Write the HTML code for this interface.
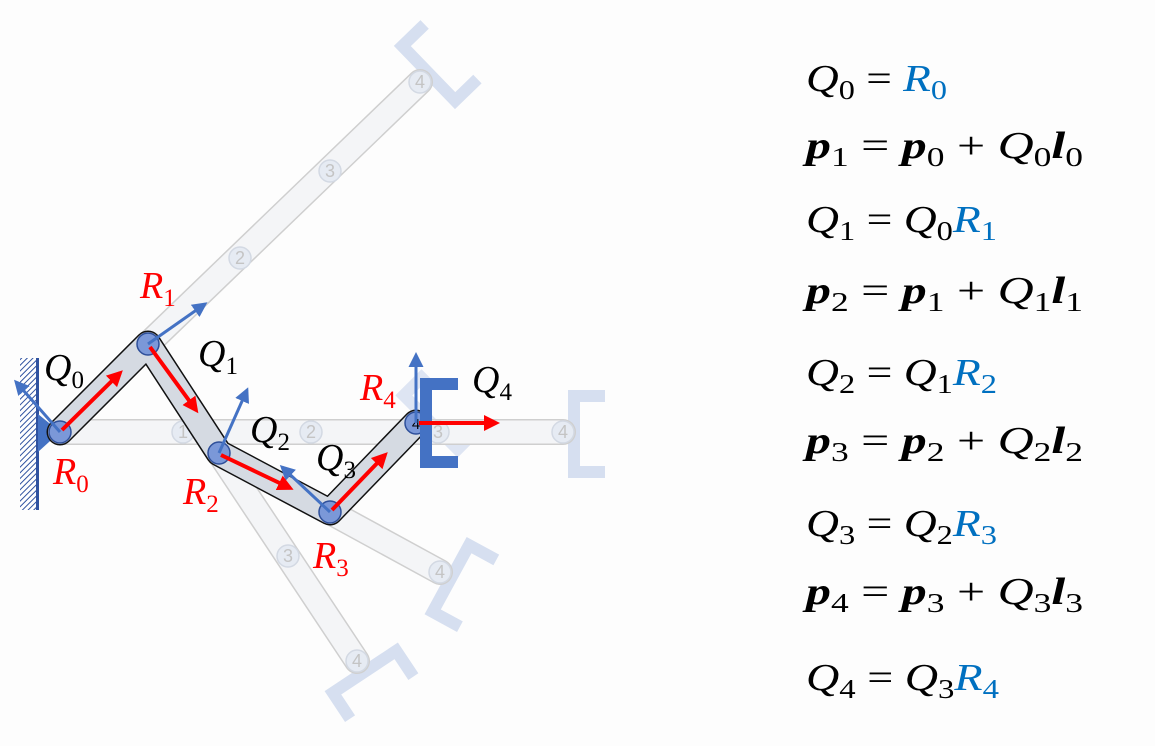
<!DOCTYPE html>
<html><head><meta charset="utf-8"><style>
html,body{margin:0;padding:0;background:#fff;}
svg{display:block;}
.m{font-family:"Liberation Serif",serif;font-style:italic;font-size:38px;}
.b{font-weight:bold;}
.u{font-style:normal;}
</style></head><body>
<svg width="1155" height="746" viewBox="0 0 1155 746" xmlns="http://www.w3.org/2000/svg">
<defs>
<pattern id="h" width="4" height="4" patternUnits="userSpaceOnUse" patternTransform="rotate(45)">
<rect width="4" height="4" fill="#fff"/><line x1="0" y1="0" x2="0" y2="4" stroke="#2f52a0" stroke-width="2"/></pattern>
<marker id="ar" markerWidth="4" markerHeight="4" refX="3" refY="2" orient="auto" markerUnits="strokeWidth"><path d="M0,0 L4,2 L0,4 z" fill="#f00"/></marker>
<marker id="ab" markerWidth="5" markerHeight="5" refX="4" refY="2.5" orient="auto" markerUnits="strokeWidth"><path d="M0,0 L5,2.5 L0,5 z" fill="#4472c4"/></marker>
<path id="gr" d="M-5,-44 h12 v88 h-12 z M-5,-44 h37 v12 h-37 z M-5,32 h37 v12 h-37 z"/>
</defs>
<rect width="1155" height="746" fill="#fdfdfd"/>
<!-- ghost grippers -->
<g fill="#d6dff0">
<path d="M568,390 h37 v12 h-25 v64 h25 v12 h-37 z"/>
<use href="#gr" transform="translate(428,74) rotate(-44)"/>
<use href="#gr" transform="translate(450,578) rotate(28.6)"/>
<use href="#gr" transform="translate(364,671) rotate(56.4)"/>
<use href="#gr" transform="translate(430,423) rotate(-45)" opacity="0.8"/>
</g>
<!-- ghost links -->
<g stroke-linecap="round" fill="none">
<g stroke="#cfcfcf" stroke-width="26">
<polyline points="60,432 563,432"/>
<polyline points="148,344 420,82"/>
<polyline points="219,453 357,661"/>
<polyline points="330,512 440,572"/>
</g>
<g stroke="#f4f5f7" stroke-width="23">
<polyline points="60,432 563,432"/>
<polyline points="148,344 420,82"/>
<polyline points="219,453 357,661"/>
<polyline points="330,512 440,572"/>
</g>
</g>
<g fill="#e6ebf3" stroke="#d3d9e3" stroke-width="1.5">
<circle cx="183" cy="432" r="11"/><circle cx="311" cy="432" r="11"/><circle cx="438" cy="432" r="11"/><circle cx="563" cy="432" r="11"/>
<circle cx="240" cy="258" r="11"/><circle cx="330" cy="171" r="11"/><circle cx="420" cy="82" r="11"/>
<circle cx="288" cy="556" r="11"/><circle cx="357" cy="661" r="11"/>
<circle cx="440" cy="572" r="11"/>
</g>
<g fill="#c4c4c4" font-family="Liberation Sans,sans-serif" font-size="18" text-anchor="middle">
<text x="183" y="438">1</text><text x="311" y="438">2</text><text x="438" y="438">3</text><text x="563" y="438">4</text>
<text x="240" y="264">2</text><text x="330" y="177">3</text><text x="420" y="88">4</text>
<text x="288" y="562">3</text><text x="357" y="667">4</text><text x="440" y="578">4</text>
</g>
<!-- wall -->
<rect x="20" y="358" width="18" height="152" fill="url(#h)"/>
<rect x="36" y="358" width="3" height="152" fill="#2f52a0"/>
<path d="M38,414 L60,432 L38,452 z" fill="#4472c4"/>
<!-- main arm -->
<g stroke-linecap="round" stroke-linejoin="round" fill="none">
<polyline points="60,432 148,344 219,453 330,512 416,423" stroke="#111" stroke-width="27"/>
<polyline points="60,432 148,344 219,453 330,512 416,423" stroke="#d5dae2" stroke-width="24"/>
</g>
<g fill="#7b98d8" stroke="#2e4f9a" stroke-width="1.5">
<circle cx="60" cy="432" r="11"/><circle cx="148" cy="344" r="11"/><circle cx="219" cy="453" r="11"/><circle cx="330" cy="512" r="11"/><circle cx="416" cy="423" r="11"/>
</g>
<text x="416" y="429" font-family="Liberation Sans,sans-serif" font-size="15" text-anchor="middle">4</text>
<!-- main gripper -->
<path d="M420,378 h38 v12 h-26 v66 h26 v12 h-38 z" fill="#4472c4"/>
<!-- blue arrows -->
<g stroke="#4472c4" stroke-width="3" marker-end="url(#ab)">
<line x1="60" y1="432" x2="16" y2="382"/>
<line x1="148" y1="344" x2="205" y2="304"/>
<line x1="219" y1="453" x2="247" y2="390"/>
<line x1="330" y1="512" x2="282" y2="467"/>
<line x1="416" y1="423" x2="416" y2="355"/>
</g>
<!-- red arrows -->
<g stroke="#f00" stroke-width="4" marker-end="url(#ar)">
<line x1="62" y1="430" x2="120" y2="373"/>
<line x1="150" y1="347" x2="196" y2="410"/>
<line x1="221" y1="455" x2="290" y2="488"/>
<line x1="332" y1="510" x2="385" y2="455"/>
<line x1="419" y1="423" x2="496" y2="423"/>
</g>
<!-- labels -->
<g class="m" font-size="34">
<text x="44" y="380" fill="#000">Q<tspan font-size="25" dy="8" class="u">0</tspan></text>
<text x="198" y="366" fill="#000">Q<tspan font-size="25" dy="8" class="u">1</tspan></text>
<text x="250" y="442" fill="#000">Q<tspan font-size="25" dy="8" class="u">2</tspan></text>
<text x="316" y="470" fill="#000">Q<tspan font-size="25" dy="8" class="u">3</tspan></text>
<text x="472" y="392" fill="#000">Q<tspan font-size="25" dy="8" class="u">4</tspan></text>
<text x="140" y="298" fill="#f00">R<tspan font-size="25" dy="8" class="u">1</tspan></text>
<text x="53" y="484" fill="#f00">R<tspan font-size="25" dy="8" class="u">0</tspan></text>
<text x="183" y="504" fill="#f00">R<tspan font-size="25" dy="8" class="u">2</tspan></text>
<text x="313" y="568" fill="#f00">R<tspan font-size="25" dy="8" class="u">3</tspan></text>
<text x="360" y="400" fill="#f00">R<tspan font-size="25" dy="8" class="u">4</tspan></text>
</g>
<!-- equations -->
<g class="m" fill="#000">
<text x="806" y="91" textLength="141" lengthAdjust="spacingAndGlyphs">Q<tspan class="u" font-size="27" dy="8">0</tspan><tspan class="u" dy="-8"> = </tspan><tspan fill="#0070c0">R</tspan><tspan class="u" fill="#0070c0" font-size="27" dy="8">0</tspan></text>
<text x="806" y="158" textLength="277" lengthAdjust="spacingAndGlyphs"><tspan class="b">p</tspan><tspan class="u" font-size="27" dy="8">1</tspan><tspan class="u" dy="-8"> = </tspan><tspan class="b">p</tspan><tspan class="u" font-size="27" dy="8">0</tspan><tspan class="u" dy="-8"> + </tspan>Q<tspan class="u" font-size="27" dy="8">0</tspan><tspan class="b" dy="-8">l</tspan><tspan class="u" font-size="27" dy="8">0</tspan></text>
<text x="806" y="232" textLength="191" lengthAdjust="spacingAndGlyphs">Q<tspan class="u" font-size="27" dy="8">1</tspan><tspan class="u" dy="-8"> = </tspan>Q<tspan class="u" font-size="27" dy="8">0</tspan><tspan fill="#0070c0" dy="-8">R</tspan><tspan class="u" fill="#0070c0" font-size="27" dy="8">1</tspan></text>
<text x="806" y="303" textLength="277" lengthAdjust="spacingAndGlyphs"><tspan class="b">p</tspan><tspan class="u" font-size="27" dy="8">2</tspan><tspan class="u" dy="-8"> = </tspan><tspan class="b">p</tspan><tspan class="u" font-size="27" dy="8">1</tspan><tspan class="u" dy="-8"> + </tspan>Q<tspan class="u" font-size="27" dy="8">1</tspan><tspan class="b" dy="-8">l</tspan><tspan class="u" font-size="27" dy="8">1</tspan></text>
<text x="806" y="385" textLength="191" lengthAdjust="spacingAndGlyphs">Q<tspan class="u" font-size="27" dy="8">2</tspan><tspan class="u" dy="-8"> = </tspan>Q<tspan class="u" font-size="27" dy="8">1</tspan><tspan fill="#0070c0" dy="-8">R</tspan><tspan class="u" fill="#0070c0" font-size="27" dy="8">2</tspan></text>
<text x="806" y="453" textLength="277" lengthAdjust="spacingAndGlyphs"><tspan class="b">p</tspan><tspan class="u" font-size="27" dy="8">3</tspan><tspan class="u" dy="-8"> = </tspan><tspan class="b">p</tspan><tspan class="u" font-size="27" dy="8">2</tspan><tspan class="u" dy="-8"> + </tspan>Q<tspan class="u" font-size="27" dy="8">2</tspan><tspan class="b" dy="-8">l</tspan><tspan class="u" font-size="27" dy="8">2</tspan></text>
<text x="806" y="536" textLength="191" lengthAdjust="spacingAndGlyphs">Q<tspan class="u" font-size="27" dy="8">3</tspan><tspan class="u" dy="-8"> = </tspan>Q<tspan class="u" font-size="27" dy="8">2</tspan><tspan fill="#0070c0" dy="-8">R</tspan><tspan class="u" fill="#0070c0" font-size="27" dy="8">3</tspan></text>
<text x="806" y="604" textLength="277" lengthAdjust="spacingAndGlyphs"><tspan class="b">p</tspan><tspan class="u" font-size="27" dy="8">4</tspan><tspan class="u" dy="-8"> = </tspan><tspan class="b">p</tspan><tspan class="u" font-size="27" dy="8">3</tspan><tspan class="u" dy="-8"> + </tspan>Q<tspan class="u" font-size="27" dy="8">3</tspan><tspan class="b" dy="-8">l</tspan><tspan class="u" font-size="27" dy="8">3</tspan></text>
<text x="806" y="690" textLength="193" lengthAdjust="spacingAndGlyphs">Q<tspan class="u" font-size="27" dy="8">4</tspan><tspan class="u" dy="-8"> = </tspan>Q<tspan class="u" font-size="27" dy="8">3</tspan><tspan fill="#0070c0" dy="-8">R</tspan><tspan class="u" fill="#0070c0" font-size="27" dy="8">4</tspan></text>
</g>
</svg>
</body></html>
